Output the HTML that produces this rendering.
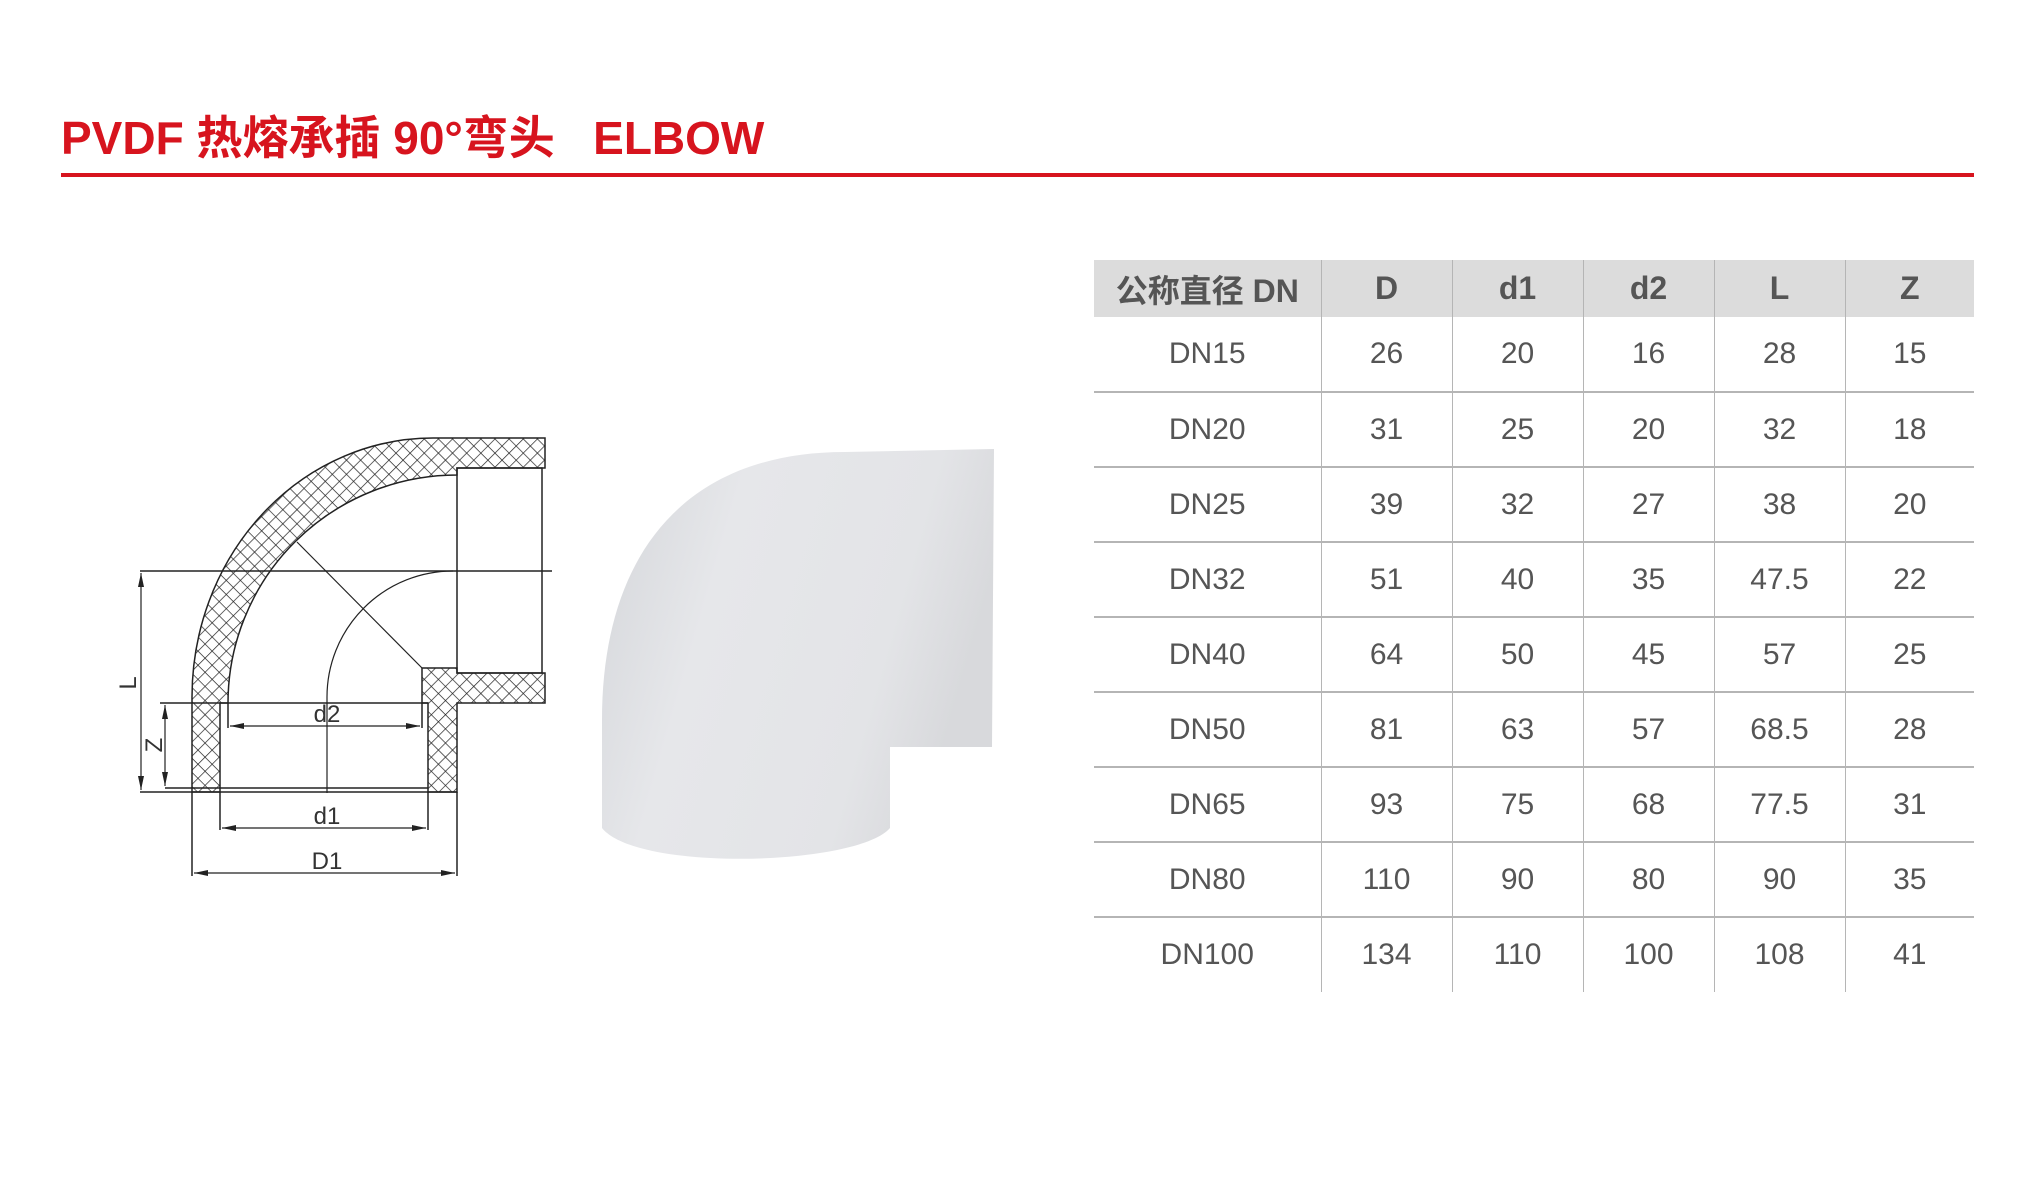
<!DOCTYPE html>
<html><head><meta charset="utf-8"><style>
body{margin:0;background:#fff;width:2020px;height:1183px;overflow:hidden;position:relative;font-family:"Liberation Sans","Noto Sans CJK SC",sans-serif}
.title{position:absolute;left:61px;top:108px;font-size:46px;font-weight:bold;color:#d7141e;white-space:nowrap;line-height:60px}
.rule{position:absolute;left:61px;top:173px;width:1913px;height:4px;background:#d7141e}
table{position:absolute;left:1094px;top:260px;width:880px;border-collapse:collapse;table-layout:fixed;color:#555}
th{background:#dcdcdc;height:57px;font-size:32px;font-weight:bold;color:#555;padding:0;box-sizing:border-box}
td{height:75px;font-size:30px;text-align:center;padding:0;border-top:2px solid #b5b5b5;box-sizing:border-box}
td+td,th+th{border-left:1px solid #b5b5b5}
svg{position:absolute;left:0;top:0}
</style></head><body>
<div class="title">PVDF 热熔承插 90°弯头&nbsp;&nbsp;&nbsp;ELBOW</div>
<div class="rule"></div>
<svg width="2020" height="1183">
<defs>
<pattern id="h" width="10" height="10" patternUnits="userSpaceOnUse" patternTransform="rotate(45)">
<rect width="10" height="10" fill="#fff"/>
<line x1="0" y1="0" x2="0" y2="10" stroke="#222" stroke-width="1.4"/>
<line x1="0" y1="0" x2="10" y2="0" stroke="#222" stroke-width="1.4"/>
</pattern>
<marker id="a" markerWidth="14" markerHeight="6" refX="14" refY="3" orient="auto-start-reverse" markerUnits="userSpaceOnUse"><path d="M0,0L14,3L0,6z" fill="#222"/></marker>
<linearGradient id="g" x1="0" y1="0" x2="1" y2="0.3"><stop offset="0" stop-color="#d3d5d9"/><stop offset="0.35" stop-color="#e6e7ea"/><stop offset="0.8" stop-color="#e3e4e7"/><stop offset="1" stop-color="#d8d9dc"/></linearGradient>
</defs>
<g stroke="#222" stroke-width="1.5" fill="none">
<path d="M192,792 L192,697 A241,259 0 0 1 433,438 L545,438 L545,468 L457,468 L457,475 A229,228 0 0 0 228,703 L220,703 L220,792 Z" fill="url(#h)"/>
<path d="M422,668 L457,668 L457,673 L545,673 L545,703 L457,703 L457,792 L428,792 L428,703 L422,703 Z" fill="url(#h)"/>
<rect x="457" y="468" width="85" height="205"/>
<line x1="220" y1="703" x2="428" y2="703"/>
<line x1="165" y1="788" x2="428" y2="788"/>
<line x1="140" y1="792" x2="457" y2="792"/>
<line x1="140" y1="571" x2="552" y2="571"/>
<path d="M327,793 L327,697 A126,126 0 0 1 453,571" stroke-width="1.2"/>
<line x1="297" y1="542" x2="422" y2="668" stroke-width="1.2"/>
<line x1="141" y1="573" x2="141" y2="790" marker-start="url(#a)" marker-end="url(#a)" stroke-width="1.2"/>
<line x1="165" y1="705" x2="165" y2="786" marker-start="url(#a)" marker-end="url(#a)" stroke-width="1.2"/>
<line x1="160" y1="703" x2="220" y2="703"/>
<line x1="228" y1="703" x2="228" y2="728"/><line x1="422" y1="703" x2="422" y2="728"/>
<line x1="230" y1="726" x2="420" y2="726" marker-start="url(#a)" marker-end="url(#a)" stroke-width="1.2"/>
<line x1="220" y1="792" x2="220" y2="830"/><line x1="428" y1="792" x2="428" y2="830"/>
<line x1="222" y1="828" x2="426" y2="828" marker-start="url(#a)" marker-end="url(#a)" stroke-width="1.2"/>
<line x1="192" y1="792" x2="192" y2="876"/><line x1="457" y1="792" x2="457" y2="876"/>
<line x1="194" y1="873" x2="455" y2="873" marker-start="url(#a)" marker-end="url(#a)" stroke-width="1.2"/>
</g>
<g font-family="Liberation Sans,sans-serif" font-size="24" fill="#333" text-anchor="middle">
<text x="327" y="722">d2</text>
<text x="327" y="824">d1</text>
<text x="327" y="869">D1</text>
<text transform="translate(136,683) rotate(-90)">L</text>
<text transform="translate(162,745) rotate(-90)">Z</text>
</g>
<path d="M602,820 L602,720 C602,560 680,452 845,452 L994,449 L992,747 L890,747 L890,828 C857,866 637,872 602,828 Z" fill="url(#g)"/>
</svg>
<table>
<colgroup><col style="width:227px"><col style="width:131px"><col style="width:131px"><col style="width:131px"><col style="width:131px"><col style="width:129px"></colgroup>
<tr><th>公称直径 DN</th><th>D</th><th>d1</th><th>d2</th><th>L</th><th>Z</th></tr>
<tr><td style="border-top:none">DN15</td><td style="border-top:none">26</td><td style="border-top:none">20</td><td style="border-top:none">16</td><td style="border-top:none">28</td><td style="border-top:none">15</td></tr>
<tr><td>DN20</td><td>31</td><td>25</td><td>20</td><td>32</td><td>18</td></tr>
<tr><td>DN25</td><td>39</td><td>32</td><td>27</td><td>38</td><td>20</td></tr>
<tr><td>DN32</td><td>51</td><td>40</td><td>35</td><td>47.5</td><td>22</td></tr>
<tr><td>DN40</td><td>64</td><td>50</td><td>45</td><td>57</td><td>25</td></tr>
<tr><td>DN50</td><td>81</td><td>63</td><td>57</td><td>68.5</td><td>28</td></tr>
<tr><td>DN65</td><td>93</td><td>75</td><td>68</td><td>77.5</td><td>31</td></tr>
<tr><td>DN80</td><td>110</td><td>90</td><td>80</td><td>90</td><td>35</td></tr>
<tr><td>DN100</td><td>134</td><td>110</td><td>100</td><td>108</td><td>41</td></tr>
</table>
</body></html>
